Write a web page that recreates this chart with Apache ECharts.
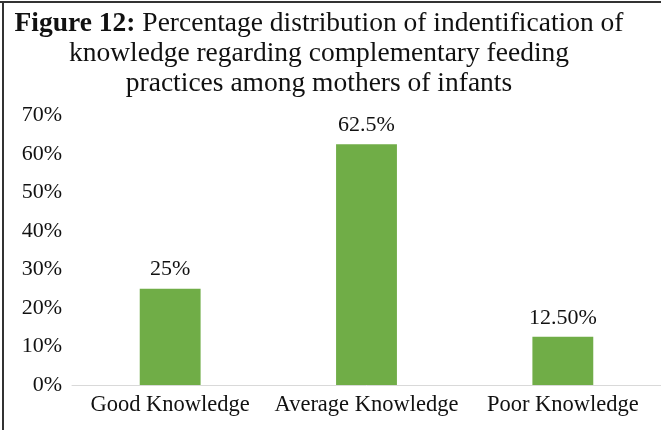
<!DOCTYPE html>
<html>
<head>
<meta charset="utf-8">
<script src="https://cdn.jsdelivr.net/npm/echarts@6/dist/echarts.min.js"></script>
<style>
  html, body { margin: 0; padding: 0; background: #fff; }
  #main { width: 661px; height: 430px; }
</style>
</head>
<body>
<div id="main"></div>
<script>
var categories = ['Good Knowledge', 'Average Knowledge', 'Poor Knowledge'];
var values = [25, 62.5, 12.5];
var valueLabels = ['25%', '62.5%', '12.50%'];
var yTicks = [0, 10, 20, 30, 40, 50, 60, 70];

var font = '"Liberation Serif", "Times New Roman", serif';
const chart = echarts.init(document.getElementById('main'));

var option = {
  backgroundColor: '#fff',
  animation: false,
  title: {
    text: '{b|Figure 12:} Percentage distribution of indentification of\nknowledge regarding complementary feeding\npractices among mothers of infants',
    left: 314,
    top: 4,
    textAlign: 'center',
    textStyle: {
      fontFamily: font,
      fontSize: 27.5,
      fontWeight: 'normal',
      color: '#111',
      lineHeight: 30,
      align: 'center',
      rich: {
        b: { fontFamily: font, fontSize: 27.5, fontWeight: 'bold', color: '#111', lineHeight: 30 }
      }
    }
  },
  grid: { left: 72, right: 0, top: 115.4, bottom: 45, containLabel: false },
  xAxis: {
    type: 'category',
    data: categories,
    axisLine: { lineStyle: { color: '#d9d9d9', width: 1 } },
    axisTick: { show: false },
    axisLabel: { fontFamily: font, fontSize: 22.5, color: '#111', margin: 9, interval: 0 }
  },
  yAxis: {
    type: 'value',
    min: yTicks[0],
    max: yTicks[yTicks.length - 1],
    interval: 10,
    splitLine: { show: false },
    axisLine: { show: false },
    axisTick: { show: false },
    axisLabel: { fontFamily: font, fontSize: 22, color: '#111', margin: 10, formatter: '{value}%' }
  },
  series: [{
    type: 'bar',
    data: values,
    barWidth: '31%',
    itemStyle: { color: '#70ad47' },
    label: {
      show: true,
      position: 'top',
      distance: 8,
      fontFamily: font,
      fontSize: 22,
      color: '#111',
      formatter: function (p) { return valueLabels[p.dataIndex]; }
    }
  }],
  graphic: [
    { type: 'line', shape: { x1: 0, y1: 2, x2: 661, y2: 2 }, style: { stroke: '#333', lineWidth: 2 } },
    { type: 'line', shape: { x1: 3, y1: 1, x2: 3, y2: 430 }, style: { stroke: '#333', lineWidth: 2 } }
  ]
};

option && chart.setOption(option);
</script>
</body>
</html>
